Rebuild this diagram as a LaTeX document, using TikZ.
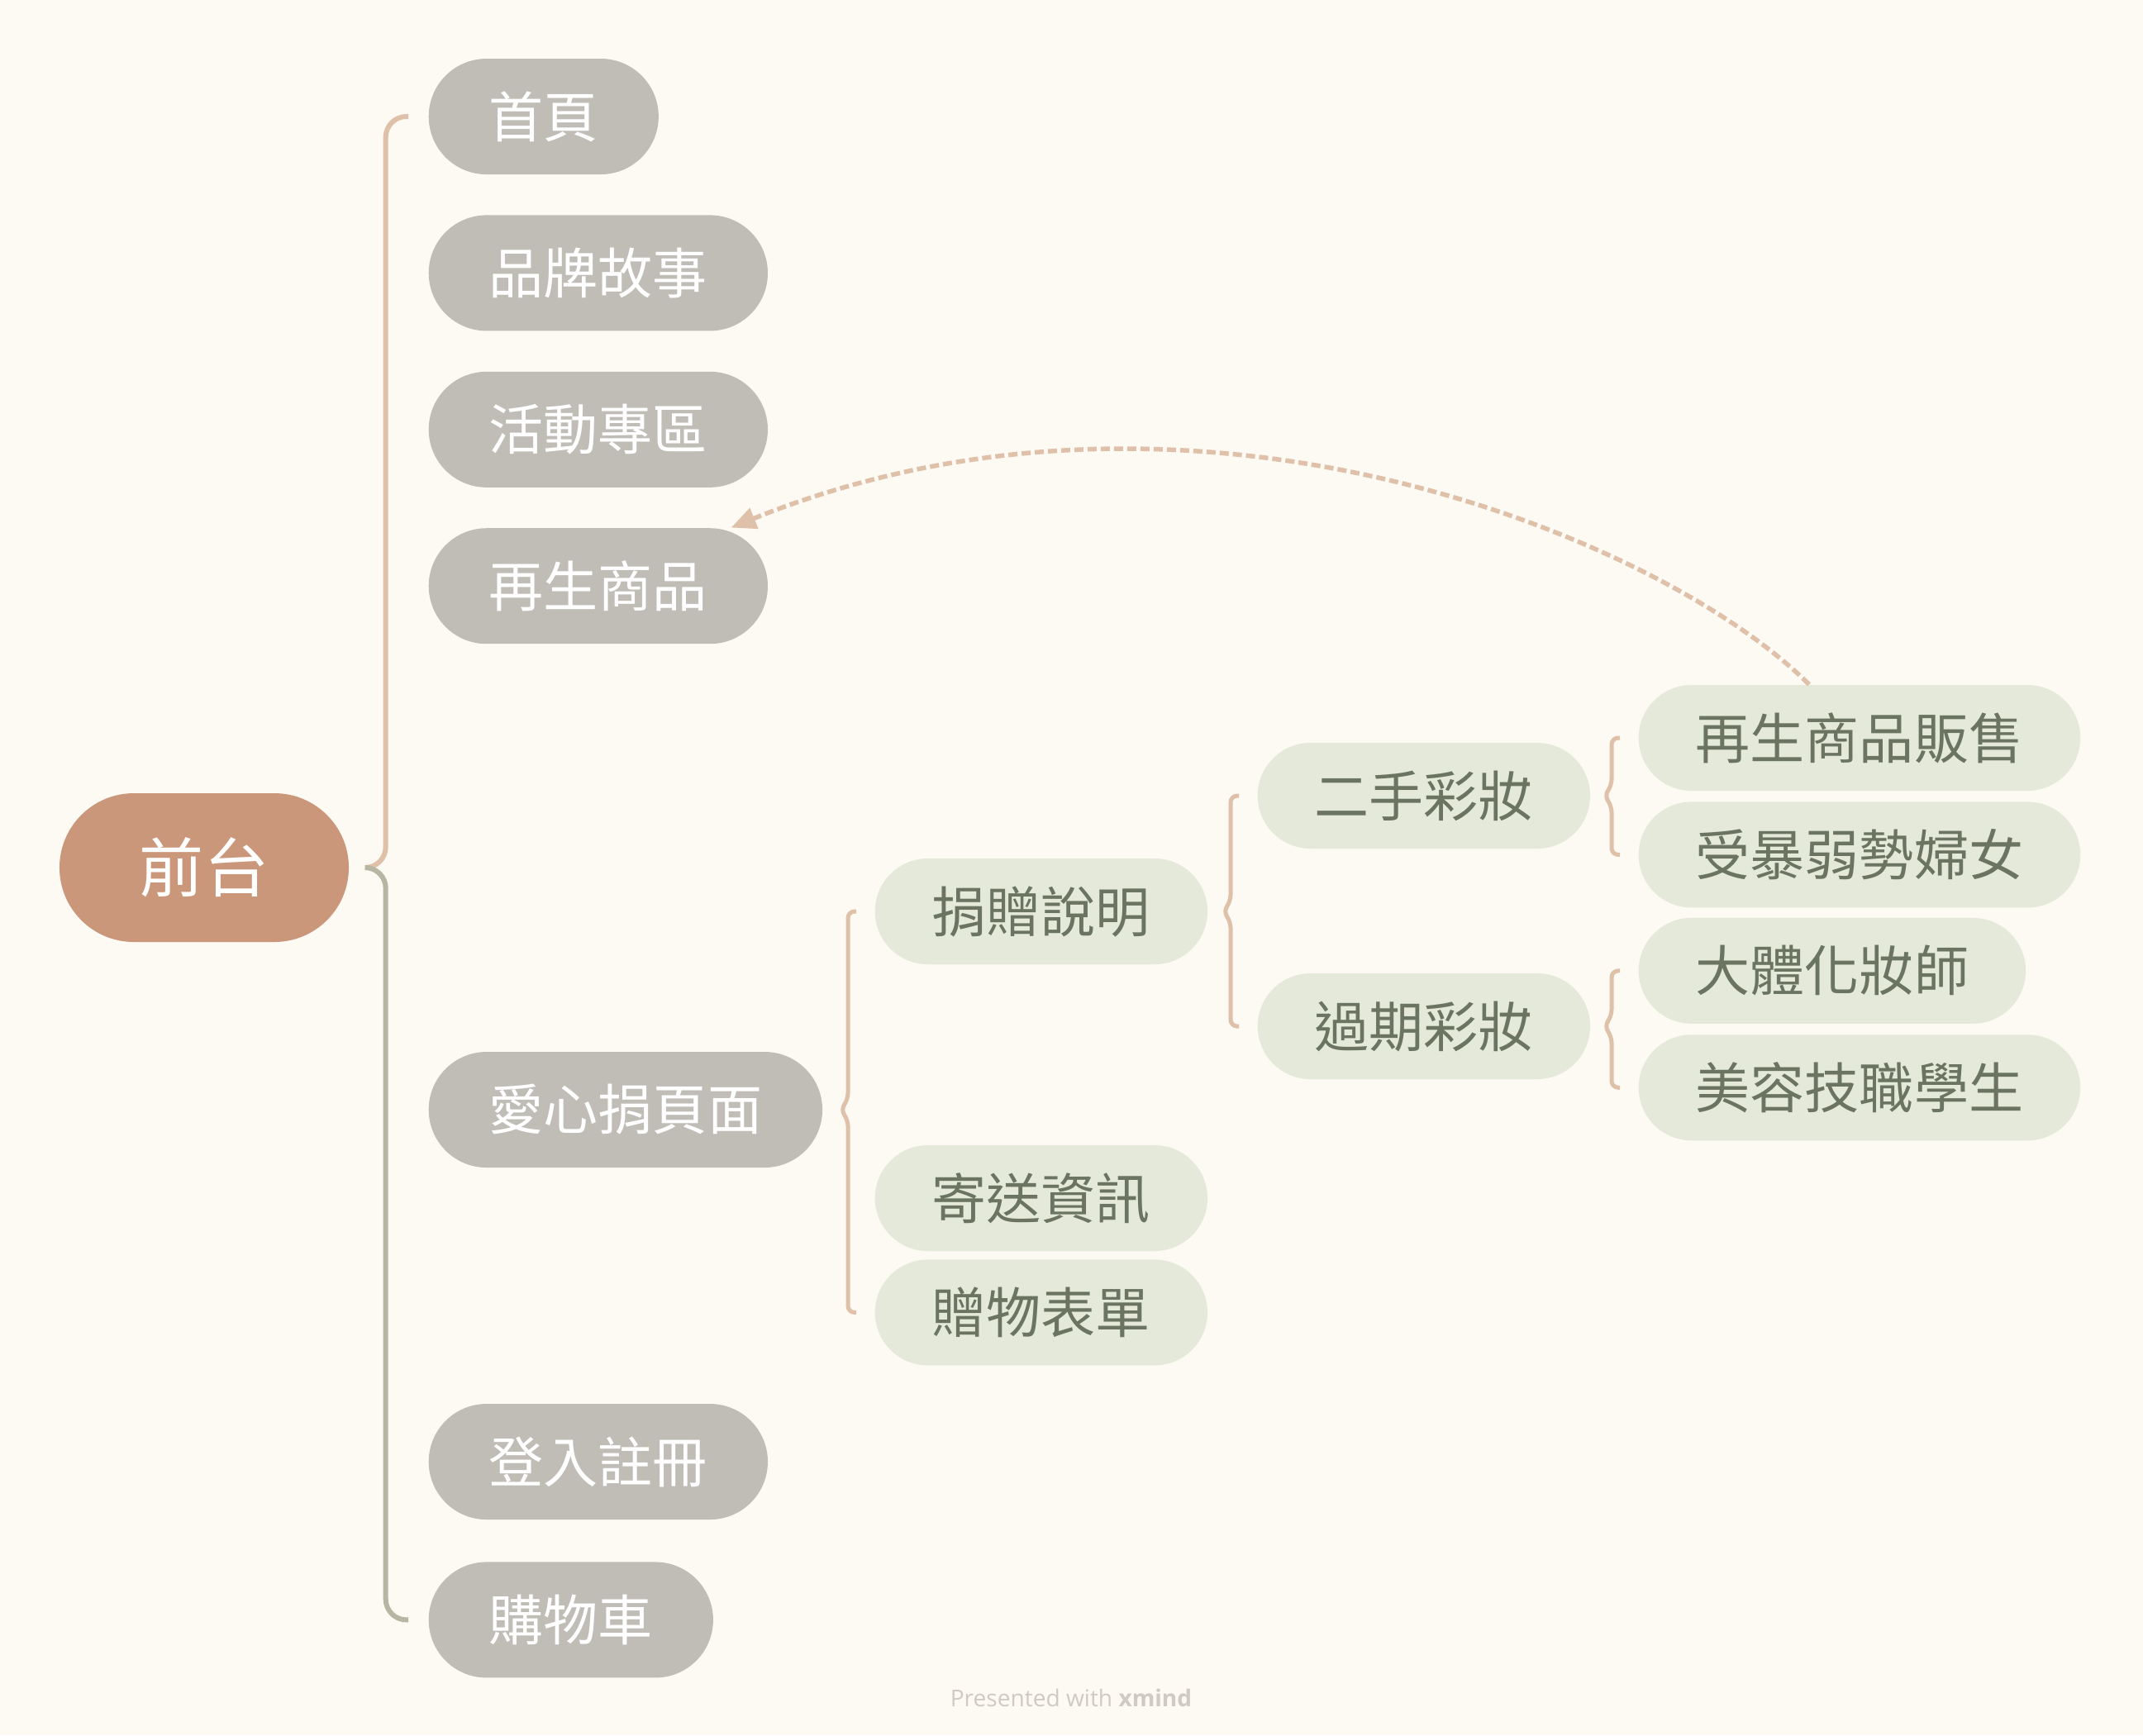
\documentclass[tikz,border=0pt]{standalone}
\usepackage{fontspec}
\setmainfont{Open Sans}
\newfontfamily\cjk{Noto Sans CJK TC}
\usepackage{tikz}
\usetikzlibrary{positioning, arrows.meta, calc}
\definecolor{paper}{HTML}{FDF9F3}
\definecolor{rootbrown}{HTML}{CB977B}
\definecolor{stone}{HTML}{C0BDB7}
\definecolor{sage}{HTML}{E4E9D9}
\definecolor{sagetext}{HTML}{6B7461}
\definecolor{tan}{HTML}{DFC0A8}
\definecolor{olive}{HTML}{B6B6A2}
\definecolor{credit}{HTML}{CFCAC4}
\tikzstyle{central} = [rectangle, rounded corners=0.9cm, minimum height=1.8cm, inner xsep=0.97cm, inner ysep=0pt, text centered, fill=rootbrown, text=white, font=\cjk\fontsize{22.2pt}{26pt}\selectfont]
\tikzstyle{topic} = [rectangle, rounded corners=0.7cm, minimum height=1.4cm, inner xsep=0.73cm, inner ysep=0pt, text centered, fill=stone, text=white, font=\cjk\fontsize{18.8pt}{22pt}\selectfont]
\tikzstyle{subtopic} = [rectangle, rounded corners=0.64cm, minimum height=1.28cm, inner xsep=0.69cm, inner ysep=0pt, text centered, fill=sage, text=sagetext, font=\cjk\fontsize{18.8pt}{22pt}\selectfont]
\tikzstyle{branch} = [line width=0.06cm, draw=tan, rounded corners=0.25cm]
\tikzstyle{branchb} = [line width=0.06cm, draw=olive, rounded corners=0.25cm]
\tikzstyle{brace} = [line width=0.05cm, draw=tan, rounded corners=0.08cm]
\tikzstyle{link} = [line width=0.055cm, draw=tan, dash pattern=on 0.11cm off 0.05cm, -{Triangle[length=0.3cm, width=0.26cm, fill=tan]}]
\tikzstyle{creditline} = [text=credit, font=\fontsize{8pt}{10pt}\selectfont]
\newcommand{\bracegroup}[3]{%
  \coordinate (bm) at (#2.west |- #1.east);
  \draw [brace] ([xshift=-0.22cm]#2.west) -- ([xshift=-0.32cm]#2.west)
    -- ([shift={(-0.32cm,0.12cm)}]bm) -- ([xshift=-0.41cm]bm)
    -- ([shift={(-0.32cm,-0.12cm)}]bm) -- ([xshift=-0.32cm]#3.west)
    -- ([xshift=-0.22cm]#3.west);}
\begin{document}
\begin{tikzpicture}
    \fill [paper] (0,0) rectangle (25.93,-21.00);
    \useasboundingbox (0,0) rectangle (25.93,-21.00);
    \node (0) [central] at (2.47,-10.50) {前台};
    \node (1) [topic, anchor=west] at (5.18,-1.41) {首頁};
    \node (2) [topic, below=0.48cm of 1.south west, anchor=north west] {品牌故事};
    \node (3) [topic, below=0.48cm of 2.south west, anchor=north west] {活動專區};
    \node (4) [topic, below=0.48cm of 3.south west, anchor=north west] {再生商品};
    \node (5) [topic, anchor=west] at (5.18,-13.43) {愛心捐頁面};
    \node (6) [topic, anchor=west] at (5.18,-17.69) {登入註冊};
    \node (7) [topic, below=0.5cm of 6.south west, anchor=north west] {購物車};
    \node (51) [subtopic, anchor=west] at (10.58,-11.03) {捐贈說明};
    \node (52) [subtopic, anchor=west] at (10.58,-14.50) {寄送資訊};
    \node (53) [subtopic, below=0.09cm of 52.south west, anchor=north west] {贈物表單};
    \node (511) [subtopic, anchor=west] at (15.21,-9.63) {二手彩妝};
    \node (512) [subtopic, anchor=west] at (15.21,-12.42) {過期彩妝};
    \node (5111) [subtopic, anchor=west] at (19.82,-8.93) {再生商品販售};
    \node (5112) [subtopic, below=0.12cm of 5111.south west, anchor=north west] {受暴弱勢婦女};
    \node (5121) [subtopic, below=0.11cm of 5112.south west, anchor=north west] {大體化妝師};
    \node (5122) [subtopic, below=0.12cm of 5121.south west, anchor=north west] {美容技職學生};
    \node (8) [creditline] at (12.96,-20.55) {Presented with \textbf{xmind}};
    \coordinate (0j) at ([xshift=0.19cm]0.east);
    \draw [branch] (0j) -- ++(0.25,0) |- ([xshift=-0.24cm]1.west);
    \draw [branchb] (0j) -- ++(0.25,0) |- ([xshift=-0.24cm]7.west);
    \bracegroup{5}{51}{53}
    \bracegroup{51}{511}{512}
    \bracegroup{511}{5111}{5112}
    \bracegroup{512}{5121}{5122}
    \draw [link] ([xshift=-0.61cm]5111.north) .. controls +(135:2.5) and +(22:6) .. ([xshift=-0.45cm]4.north east);
  \end{tikzpicture}
\end{document}
